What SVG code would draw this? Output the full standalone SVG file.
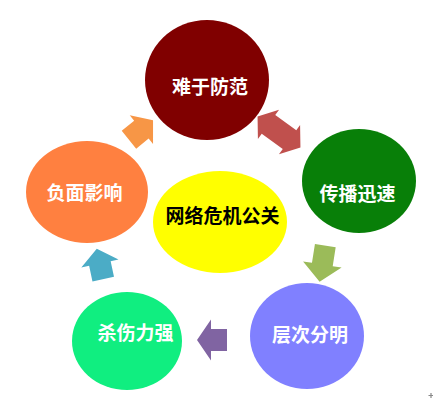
<svg xmlns="http://www.w3.org/2000/svg" width="433" height="404" viewBox="0 0 433 404">
  <style>
    .lbl { font-family: "Noto Sans CJK SC", "Noto Sans", sans-serif; font-size: 19px; font-weight: bold; text-anchor: middle; fill: #ffffff; }
    .center { fill: #000000; }
    .arrow { stroke: none; }
  </style>
  <rect width="433" height="404" fill="#ffffff"/>
  <g id="connectors">
    <path class="arrow" fill="#F79646" transform="translate(141,130) rotate(-39)" d="M-15.5,-11.5 L0.5,-11.5 L0.5,-18.5 L15.5,0 L0.5,18.5 L0.5,11.5 L-15.5,11.5 Z"/>
    <path class="arrow" fill="#C0504D" transform="translate(279,132) rotate(36)" d="M-26.5,0 L-13,-18 L-13,-11.5 L13,-11.5 L13,-18 L26.5,0 L13,18 L13,11.5 L-13,11.5 L-13,18 Z"/>
    <path class="arrow" fill="#9BBB59" transform="translate(322.5,263.5) rotate(99)" d="M-18,-10.5 L1,-10.5 L1,-19.5 L18.5,0 L1,19.5 L1,10.5 L-18,10.5 Z"/>
    <path class="arrow" fill="#8064A2" transform="translate(212,340) rotate(180)" d="M-15,-11 L1,-11 L1,-20.5 L15,0 L1,20.5 L1,11 L-15,11 Z"/>
    <path class="arrow" fill="#4BACC6" transform="translate(100,264) rotate(-102)" d="M-15.5,-11 L0.5,-11 L0.5,-19 L15.5,0 L0.5,19 L0.5,11 L-15.5,11 Z"/>
  </g>
  <g id="node-top">
    <ellipse cx="207" cy="80" rx="62" ry="60" fill="#800000"/>
    <text class="lbl" x="210" y="94">难于防范</text>
  </g>
  <g id="node-right">
    <ellipse cx="359" cy="181" rx="57" ry="52" fill="#087F08"/>
    <text class="lbl" x="357.5" y="201">传播迅速</text>
  </g>
  <g id="node-bottom-right">
    <ellipse cx="307" cy="336" rx="57" ry="53" fill="#8080FF"/>
    <text class="lbl" x="310" y="342">层次分明</text>
  </g>
  <g id="node-bottom-left">
    <ellipse cx="127" cy="341" rx="55" ry="49" fill="#10EE80"/>
    <text class="lbl" x="135.5" y="340">杀伤力强</text>
  </g>
  <g id="node-left">
    <ellipse cx="87" cy="192" rx="61" ry="51" fill="#FF8040"/>
    <text class="lbl" x="84.5" y="200">负面影响</text>
  </g>
  <g id="node-center">
    <ellipse cx="220" cy="222" rx="67" ry="51" fill="#FFFF00"/>
    <text class="lbl center" x="222.5" y="222.5">网络危机公关</text>
  </g>
  <g id="mark">
    <path d="M428.5,395.5 H433 M431,393 V398" stroke="#888888" stroke-width="1.2" fill="none"/>
  </g>
</svg>
